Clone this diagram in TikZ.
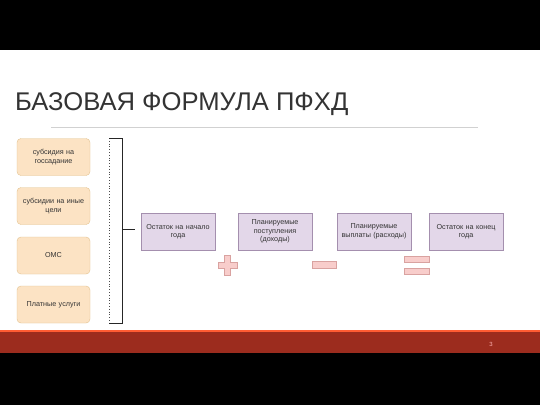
\documentclass[tikz,border=0pt]{standalone}
\usepackage{fontspec}
\setmainfont{Liberation Sans}
\usetikzlibrary{positioning}

\definecolor{srcfill}{HTML}{FCE3C4}
\definecolor{srcline}{HTML}{E3C28F}
\definecolor{itemfill}{HTML}{E3D7E9}
\definecolor{itemline}{HTML}{A48FAE}
\definecolor{signfill}{HTML}{F8CDCB}
\definecolor{signline}{HTML}{D9A2A0}
\definecolor{footred}{HTML}{9C2C1E}

\tikzset{
  srcbox/.style={draw=srcline, fill=srcfill, rounded corners=4pt, minimum width=73pt,
    minimum height=37pt, align=center, text width=70pt, inner sep=1pt, font=\fontsize{7.2}{8.6}\selectfont, text=black!80},
  itembox/.style={draw=itemline, fill=itemfill, minimum width=74pt, minimum height=37pt,
    align=center, text width=72pt, inner sep=1pt, font=\fontsize{7.2}{8.6}\selectfont, text=black!80},
  signbar/.style={draw=signline, fill=signfill, line width=0.6pt}
}

\begin{document}
\begin{tikzpicture}[x=1pt, y=-1pt]
\useasboundingbox (0,0) rectangle (540,405);
\fill[black] (0,0) rectangle (540,50);
\fill[black] (0,353) rectangle (540,405);
\fill[white] (0,50) rectangle (540,330);
\fill[footred] (0,330) rectangle (540,353);
\fill[red!60!orange!80] (0,330) rectangle (540,331.5);
\node[font=\fontsize{6}{7}\selectfont, text=white!70!red] (pagenum) at (491,344) {3};

% title
\node[anchor=base west, inner sep=0pt, font=\fontsize{25.6}{30}\selectfont, text=black!80] (title) at (15,110) {БАЗОВАЯ ФОРМУЛА ПФХД};
\draw[black!18, line width=1pt] (51,127) -- (478,127);

% sources
\node[srcbox] (gos) at (53.5,157) {субсидия на\\госсадание};
\node[srcbox] (ine) at (53.5,206) {субсидии на иные\\цели};
\node[srcbox] (oms) at (53.5,255.5) {ОМС};
\node[srcbox] (pay) at (53.5,304.5) {Платные услуги};

% bracket
\coordinate (btop) at (109,138);
\coordinate (bbot) at (109,323);
\coordinate (bmid) at (122,229);
\coordinate (bend) at (135,229);
\draw[black!70, dotted, line width=0.8pt] (btop) -- (bbot);
\draw[black!85, line width=0.9pt] (btop) -- (122,138) -- (122,323) -- (bbot);
\draw[black!85, line width=0.8pt] (bmid) -- (bend);

% formula
\node[itembox] (start) at (178,231.5) {Остаток на начало\\года};
\node[itembox] (income) at (275,231.5) {Планируемые\\поступления\\(доходы)};
\node[itembox] (spend) at (374,231.5) {Планируемые\\выплаты (расходы)};
\node[itembox] (finish) at (466,231.5) {Остаток на конец\\года};

% signs
\draw[signbar] (224.5,255) -- (230.5,255) -- (230.5,262) -- (237,262) -- (237,268) -- (230.5,268)
  -- (230.5,275) -- (224.5,275) -- (224.5,268) -- (218,268) -- (218,262) -- (224.5,262) -- cycle;
\draw[signbar] (312,261.5) rectangle (336,268);
\draw[signbar] (404,256) rectangle (429,262);
\draw[signbar] (404,268) rectangle (429,274);
\end{tikzpicture}
\end{document}
